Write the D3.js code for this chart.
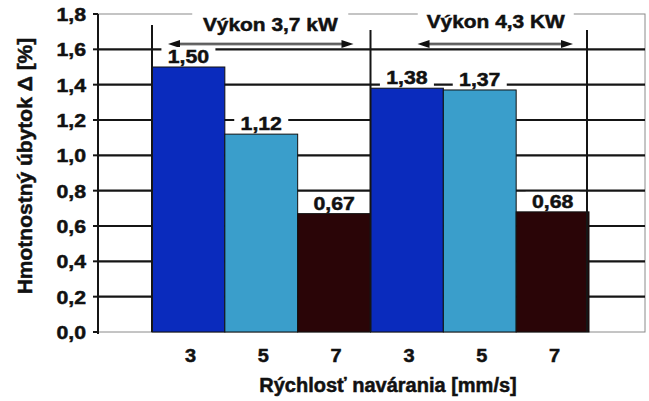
<!DOCTYPE html>
<html>
<head>
<meta charset="utf-8">
<script src="https://cdn.jsdelivr.net/npm/d3@7"></script>
<style>
  html, body { margin: 0; padding: 0; background: #fff; }
  svg { display: block; }
  text { font-family: "Liberation Sans", Arial, sans-serif; font-weight: bold; fill: #111; stroke: #111; stroke-width: 0.5px; }
</style>
</head>
<body>
<svg id="chart" width="649" height="401"></svg>
<script>
// Welding speed categories (two power groups, three speeds each)
const speeds = ["3", "5", "7", "3", "5", "7"];
// Mass loss values [%]
const massLoss = [1.50, 1.12, 0.67, 1.38, 1.37, 0.68];
const valueLabels = ["1,50", "1,12", "0,67", "1,38", "1,37", "0,68"];
// Power groups: first and last bar index of each
const groups = ["Výkon 3,7 kW", "Výkon 4,3 KW"];
const groupStart = [0, 3];
const groupEnd = [2, 5];
// Y axis ticks
const yTicks = [0, 0.2, 0.4, 0.6, 0.8, 1.0, 1.2, 1.4, 1.6, 1.8];
const yTickLabels = ["0,0", "0,2", "0,4", "0,6", "0,8", "1,0", "1,2", "1,4", "1,6", "1,8"];

const barColors = ["#0a2bbd", "#3a9ecb", "#2a0507", "#0a2bbd", "#3a9ecb", "#2a0507"];

const svg = d3.select("#chart");
const plot = { left: 98, right: 645, top: 14, bottom: 332 };

const y = d3.scaleLinear().domain([0, 1.8]).range([plot.bottom, plot.top]);
const x = d3.scaleBand().domain(d3.range(speeds.length)).range([152, 589]).padding(0);

// Horizontally widened bold text helper
function label(g, txt, px, py, size, anchor, sx) {
  return g.append("text")
    .attr("transform", `translate(${px},${py}) scale(${sx},1)`)
    .attr("text-anchor", anchor)
    .style("font-size", size + "px")
    .text(txt);
}

// Plot border (thin grey)
svg.append("rect")
  .attr("x", plot.left).attr("y", plot.top)
  .attr("width", plot.right - plot.left).attr("height", plot.bottom - plot.top)
  .attr("fill", "none").attr("stroke", "#8a8a8a").attr("stroke-width", 1);

// Gridlines
svg.append("g").selectAll("line")
  .data(yTicks.filter(t => t > 0 && t < 1.8))
  .join("line")
  .attr("x1", plot.left).attr("x2", plot.right)
  .attr("y1", d => y(d)).attr("y2", d => y(d))
  .attr("stroke", "#151515").attr("stroke-width", 2.2);

// Bars
svg.append("g").selectAll("rect")
  .data(massLoss)
  .join("rect")
  .attr("x", (d, i) => x(i))
  .attr("y", d => y(d))
  .attr("width", x.bandwidth())
  .attr("height", d => y(0) - y(d))
  .attr("fill", (d, i) => barColors[i])
  .attr("stroke", "#111").attr("stroke-width", 1);

// Group divider lines
const dividers = [
  { px: x(groupStart[0]), top: 25 },
  { px: x(groupStart[1]), top: 30 },
  { px: x(groupEnd[1]) + x.bandwidth() - 2, top: 30 }
];
svg.append("g").selectAll("line")
  .data(dividers)
  .join("line")
  .attr("x1", d => d.px).attr("x2", d => d.px)
  .attr("y1", d => d.top).attr("y2", plot.bottom)
  .attr("stroke", "#151515").attr("stroke-width", 2);

// Y axis
const yAxis = svg.append("g");
yAxis.append("line")
  .attr("x1", plot.left).attr("x2", plot.left)
  .attr("y1", plot.top).attr("y2", plot.bottom + 2)
  .attr("stroke", "#151515").attr("stroke-width", 2);
yAxis.selectAll("line.tick")
  .data(yTicks)
  .join("line").attr("class", "tick")
  .attr("x1", plot.left - 5).attr("x2", plot.left)
  .attr("y1", d => y(d)).attr("y2", d => y(d))
  .attr("stroke", "#151515").attr("stroke-width", 2);
yTicks.forEach((t, i) => {
  label(yAxis, yTickLabels[i], 86, y(t) + 7, 19, "end", 1.12);
});

// X tick labels
speeds.forEach((s, i) => {
  label(svg, s, x(i) + x.bandwidth() / 2 + 2, 362, 19, "middle", 1.05);
});

// Double-headed arrows spanning each group
const arrowY = y(1.63);
const arrowInset = [[16, 17], [47, 16]];
const arrows = svg.append("g");
groups.forEach((g, i) => {
  const a0 = x(groupStart[i]) + arrowInset[i][0];
  const a1 = x(groupEnd[i]) + x.bandwidth() - arrowInset[i][1];
  arrows.append("line")
    .attr("x1", a0 + 6).attr("x2", a1 - 6)
    .attr("y1", arrowY).attr("y2", arrowY)
    .attr("stroke", "#1a1a1a").attr("stroke-width", 2.5);
  arrows.append("line")
    .attr("x1", a0 + 8).attr("x2", a1 - 8)
    .attr("y1", arrowY).attr("y2", arrowY)
    .attr("stroke", "#cfcfcf").attr("stroke-width", 0.8);
  arrows.append("path")
    .attr("d", `M${a0},${arrowY} L${a0 + 12},${arrowY - 4} L${a0 + 12},${arrowY + 4} Z`)
    .attr("fill", "#111");
  arrows.append("path")
    .attr("d", `M${a1},${arrowY} L${a1 - 12},${arrowY - 4} L${a1 - 12},${arrowY + 4} Z`)
    .attr("fill", "#111");
});

// Value labels with white backing boxes
massLoss.forEach((v, i) => {
  const cx = x(i) + x.bandwidth() / 2;
  const cy = y(v) - 11;
  svg.append("rect")
    .attr("x", cx - 27).attr("y", cy - 9)
    .attr("width", 54).attr("height", 18)
    .attr("fill", "#fff");
  label(svg, valueLabels[i], cx, cy + 7, 19, "middle", 1.12);
});

// Group titles over the top border
const titleShift = [9, 16];
const titleBase = [31, 28];
groups.forEach((g, i) => {
  const gx0 = x(groupStart[i]);
  const gx1 = x(groupEnd[i]) + x.bandwidth();
  const cx = (gx0 + gx1) / 2 + titleShift[i];
  svg.append("rect")
    .attr("x", cx - 78).attr("y", plot.top - 3)
    .attr("width", 156).attr("height", 8)
    .attr("fill", "#fff");
  label(svg, g, cx, titleBase[i], 19, "middle", 1.1);
});

// Axis titles
svg.append("text")
  .attr("x", 388).attr("y", 392)
  .attr("text-anchor", "middle")
  .style("font-size", "20px")
  .text("Rýchlosť navárania [mm/s]");

svg.append("text")
  .attr("transform", "translate(32,166) rotate(-90)")
  .attr("text-anchor", "middle")
  .style("font-size", "21px")
  .text("Hmotnostný úbytok Δ [%]");
</script>
</body>
</html>
